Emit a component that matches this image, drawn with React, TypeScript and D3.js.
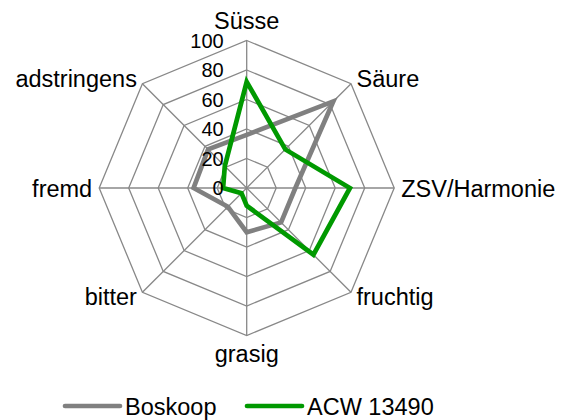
import * as React from 'react';
import { useEffect, useRef } from 'react';
import { select, scaleLinear, lineRadial, curveLinearClosed, range } from 'd3';

const categories = ['Süsse', 'Säure', 'ZSV/Harmonie', 'fruchtig', 'grasig', 'bitter', 'fremd', 'adstringens'];
const boskoop = [36, 83, 33, 33, 30, 18, 36, 37];
const acw13490 = [72, 37, 70, 64, 12, 5, 16, 21];
const ticks = [0, 20, 40, 60, 80, 100];

const seriesList = [
    { name: 'Boskoop', values: boskoop, color: '#808080' },
    { name: 'ACW 13490', values: acw13490, color: '#009900' },
];

const W = 574;
const H = 420;
const cx = 246.7;
const cy = 188;
const font = 'Liberation Sans, Arial, sans-serif';

export default function App() {
    const ref = useRef<SVGSVGElement>(null);

    useEffect(() => {
        const svg = select(ref.current);
        svg.selectAll('*').remove();

        const r = scaleLinear().domain([0, 100]).range([0, 147.5]);
        const n = categories.length;
        const angle = (i: number) => (i * 2 * Math.PI) / n;

        const g = svg.append('g').attr('transform', `translate(${cx},${cy})`);

        // grid rings
        const ring = lineRadial<number>()
            .angle((_, i) => angle(i))
            .radius((d) => r(d))
            .curve(curveLinearClosed);

        ticks.slice(1).forEach((t) => {
            g.append('path')
                .attr('d', ring(range(n).map(() => t)))
                .attr('fill', 'none')
                .attr('stroke', '#888888')
                .attr('stroke-width', 1.3);
        });

        // spokes
        categories.forEach((_, i) => {
            const a = angle(i);
            g.append('line')
                .attr('x1', 0)
                .attr('y1', 0)
                .attr('x2', r(100) * Math.sin(a))
                .attr('y2', -r(100) * Math.cos(a))
                .attr('stroke', '#888888')
                .attr('stroke-width', 1.3);
        });

        // series
        seriesList.forEach((s) => {
            g.append('path')
                .attr('d', ring(s.values))
                .attr('fill', 'none')
                .attr('stroke', s.color)
                .attr('stroke-width', 4.7)
                .attr('stroke-linejoin', 'miter');
        });

        // tick labels
        ticks.forEach((t) => {
            g.append('text')
                .attr('x', -23)
                .attr('y', -r(t))
                .attr('dy', '0.35em')
                .attr('text-anchor', 'end')
                .attr('font-family', font)
                .attr('font-size', 20)
                .attr('fill', '#000')
                .text(t);
        });

        // category labels
        categories.forEach((c, i) => {
            const a = angle(i);
            const sin = Math.sin(a);
            const cos = Math.cos(a);
            const x = r(100) * sin;
            const y = -r(100) * cos;
            const anchor = sin > 0.1 ? 'start' : sin < -0.1 ? 'end' : 'middle';
            const dx = Math.abs(sin) > 0.9 ? 7 : Math.abs(sin) > 0.1 ? 5.5 : 0;
            const dy = cos > 0.9 ? -12 : cos > 0.5 ? 3 : cos > -0.5 ? 8.5 : cos > -0.9 ? 13 : 26;
            g.append('text')
                .attr('x', x + Math.sign(Math.round(sin * 10)) * dx)
                .attr('y', y + dy)
                .attr('text-anchor', anchor)
                .attr('font-family', font)
                .attr('font-size', 23.5)
                .attr('fill', '#000')
                .text(c);
        });

        // legend
        const legendX = [65, 247];
        seriesList.forEach((s, i) => {
            const lg = svg.append('g').attr('transform', `translate(${legendX[i]},406)`);
            lg.append('line')
                .attr('x1', 0)
                .attr('x2', 55)
                .attr('y1', 0)
                .attr('y2', 0)
                .attr('stroke', s.color)
                .attr('stroke-width', 4.7)
                .attr('stroke-linecap', 'round');
            lg.append('text')
                .attr('x', 60)
                .attr('y', 9)
                .attr('font-family', font)
                .attr('font-size', 23.5)
                .attr('fill', '#000')
                .text(s.name);
        });
    }, []);

    return (
        <svg
            ref={ref}
            width={W}
            height={H}
            style={{ position: 'absolute', left: 0, top: 0, background: '#fff' }}
        />
    );
}
